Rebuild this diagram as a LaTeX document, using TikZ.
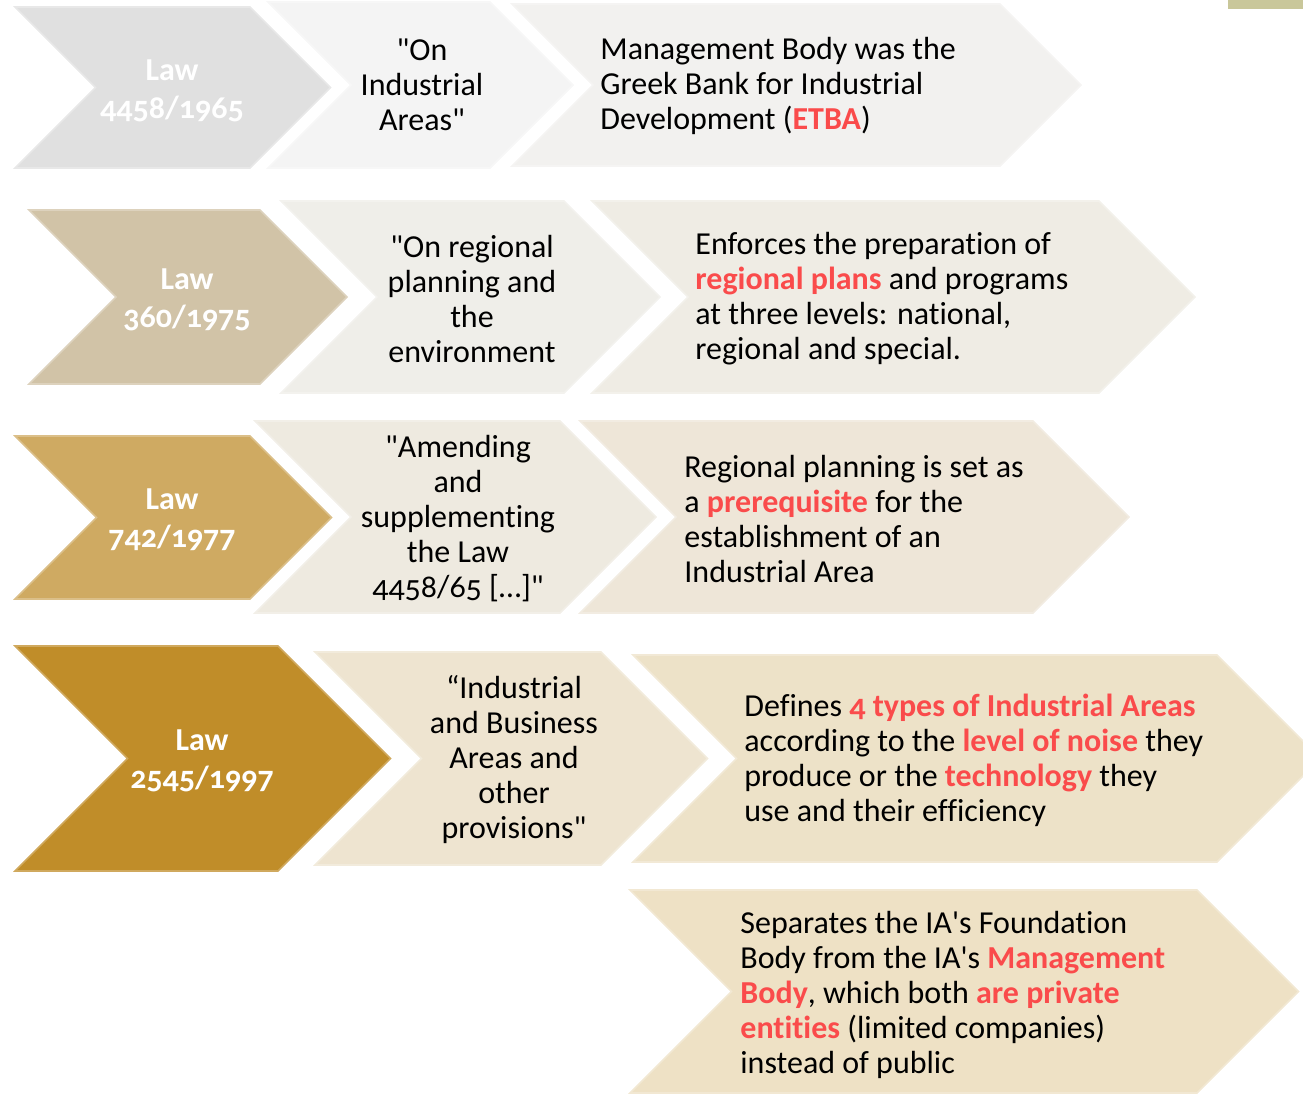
\documentclass[tikz,border=0pt]{standalone}
\usepackage{fontspec}
\setmainfont{Carlito}[Ligatures={TeXOff,NoCommon}, Numbers=OldStyle]
\usepackage{tikz}

\definecolor{lawA}{HTML}{E0E0E0}
\definecolor{titleA}{HTML}{F4F4F4}
\definecolor{descA}{HTML}{F2F1EF}
\definecolor{lawB}{HTML}{D1C3A7}
\definecolor{titleB}{HTML}{EFEEE9}
\definecolor{descB}{HTML}{EFECE4}
\definecolor{lawC}{HTML}{CFAA62}
\definecolor{titleC}{HTML}{EEEAE0}
\definecolor{descC}{HTML}{EEE6D8}
\definecolor{lawD}{HTML}{C08D29}
\definecolor{titleD}{HTML}{EEE4D0}
\definecolor{descD}{HTML}{EDE2C8}
\definecolor{descE}{HTML}{EEE1C5}
\definecolor{cornermark}{HTML}{C9C79A}
\definecolor{hilite}{HTML}{FA4B4B}

\newcommand{\hl}[1]{\textbf{\color{hilite}#1}}

\begin{document}
\begin{tikzpicture}
  [x=0.5pt,y=-0.5pt,
   lawtext/.style={text=white, align=center, font=\bfseries\fontsize{16}{19}\selectfont},
   titletext/.style={align=center, inner sep=0pt, font=\fontsize{16}{17.5}\selectfont},
   desctext/.style={align=left, anchor=west, inner sep=0pt, font=\fontsize{16}{17.5}\selectfont}]
  \useasboundingbox (0,0) rectangle (1303,1094);
  \clip (0,0) rectangle (1303,1094);

  % chevrons: left / right / top / bottom / colour
  \foreach \l/\r/\t/\b/\c in {15/250/7/168/lawA, 268/490/2/168/titleA, 512/1000/4/166/descA,
      29/260/210/384/lawB, 281/564/201/393/titleB, 592/1099/201/393/descB,
      15/250/436/599/lawC, 255/560/421/613/titleC, 580/1033/421/613/descC,
      15/278/646/871/lawD, 315/601/652/865/titleD, 633/1217/655/862/descD,
      630/1197/890/1093/descE}
  {
    \pgfmathsetmacro\d{(\b-\t)/2}
    \pgfmathsetmacro\m{(\b+\t)/2}
    \filldraw[fill=\c, draw=\c!75!white, line width=0.8pt]
      (\l,\t) -- (\r,\t) -- (\r+\d,\m) -- (\r,\b) -- (\l,\b) -- (\l+\d,\m) -- cycle;
  }
  \fill[cornermark] (1228,0) rectangle (1303,9);

  \node[lawtext] (law1) at (172,91) {Law\\4458/1965};
  \node[titletext] (title1) at (422,85) {"On\\Industrial\\Areas"};
  \node[desctext] (desc1) at (600,86) {Management Body was the\\Greek Bank for Industrial\\Development (\hl{ETBA})};

  \node[lawtext] (law2) at (187,300) {Law\\360/1975};
  \node[titletext] (title2) at (472,299) {"On regional\\planning and\\the\\environment};
  \node[desctext] (desc2) at (695,299) {Enforces the preparation of\\\hl{regional plans} and programs\\at three levels: national,\\regional and special.};

  \node[lawtext] (law3) at (172,520) {Law\\742/1977};
  \node[titletext] (title3) at (458,519) {"Amending\\and\\supplementing\\the Law\\4458/65 […]"};
  \node[desctext] (desc3) at (684,519) {Regional planning is set as\\a \hl{prerequisite} for the\\establishment of an\\Industrial Area};

  \node[lawtext] (law4) at (202,761) {Law\\2545/1997};
  \node[titletext] (title4) at (514,760) {“Industrial\\and Business\\Areas and\\other\\provisions"};
  \node[desctext] (desc4) at (744,760) {Defines \hl{4 types of Industrial Areas}\\according to the \hl{level of noise} they\\produce or the \hl{technology} they\\use and their efficiency};
  \node[desctext] (desc5) at (740,995) {Separates the IA's Foundation\\Body from the IA's \hl{Management}\\\hl{Body}, which both \hl{are private}\\\hl{entities} (limited companies)\\instead of public};
\end{tikzpicture}
\end{document}
